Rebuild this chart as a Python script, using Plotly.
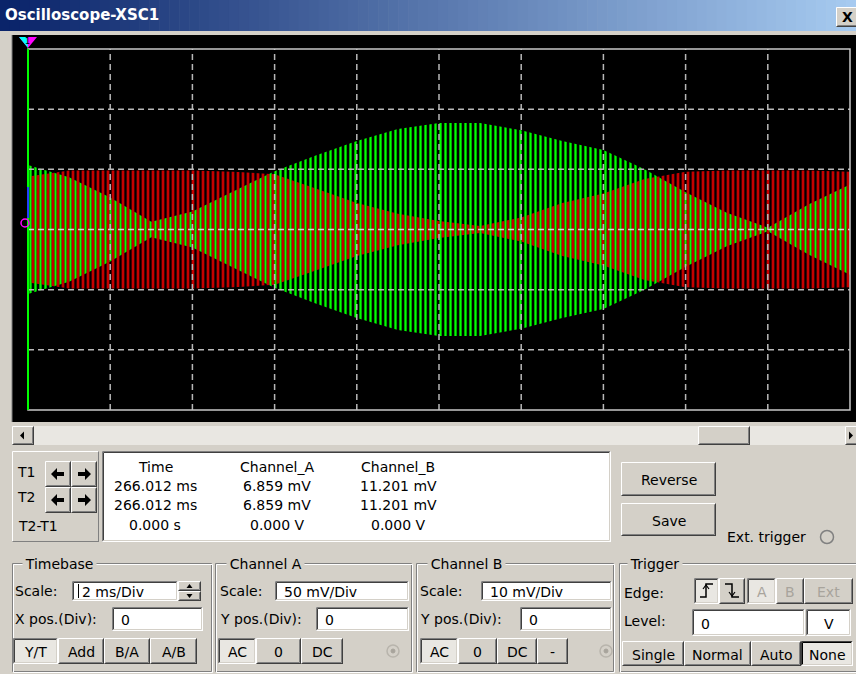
import plotly.graph_objects as go

# ---------------- measurement data ----------------
# sample instants along the sweep (ms from the left edge, 2 ms/Div, 10 Div)
time_ms = [0, 1, 2, 3, 4, 5, 6, 7, 8, 9, 10, 11, 12, 13, 14, 15, 16, 17, 18, 19, 20]
# peak (envelope) amplitude of each channel at those instants
chA_peak_mV = [44, 49, 49, 49, 49, 48, 46, 34, 22, 13, 7, 3, 10, 22, 30, 42, 48, 49, 49, 49, 48]
chB_peak_mV = [10.7, 8.7, 5.3, 1.3, 3.0, 6.3, 9.7, 12.3, 14.7, 16.7, 17.7, 17.7, 16.5, 14.7, 13.2,
               10.0, 6.2, 2.8, 0.3, 4.2, 7.5]

# instrument settings
TIMEBASE_MS_PER_DIV = 2
CHA_MV_PER_DIV = 50
CHB_MV_PER_DIV = 10
H_DIVS = 10
V_DIVS = 6

# cursor readout table
readout_cols = ["Time", "Channel_A", "Channel_B"]
readout_t1 = ["266.012 ms", "6.859 mV", "11.201 mV"]
readout_t2 = ["266.012 ms", "6.859 mV", "11.201 mV"]
readout_dt = ["0.000 s", "0.000 V", "0.000 V"]

# ---------------- helpers (window pixel space) ----------------
W, H = 856, 674
FONT = "DejaVu Sans"
FACE = "#d4d0c8"
DARK = "#404040"
SHADOW = "#808080"
LIGHT = "#ffffff"
CHECK = "#e9e7e2"

# screen rectangle in window pixels
SCR_L, SCR_R, SCR_T, SCR_B = 28, 850, 49, 410
STRIPE = 5  # spacing of the drawn carrier strokes, px

shapes = []
annos = []


def fx(px):
    return px / W


def fy(py):
    return 1 - py / H


def rect(x0, y0, x1, y1, fill, line_color=None, lw=1, layer="above"):
    shapes.append(dict(type="rect", xref="paper", yref="paper",
                       x0=fx(x0), x1=fx(x1), y0=fy(y1), y1=fy(y0),
                       fillcolor=fill,
                       line=dict(color=line_color or "rgba(0,0,0,0)", width=lw if line_color else 0),
                       layer=layer))


def seg(x0, y0, x1, y1, color, lw=1, dash=None, layer="above"):
    ln = dict(color=color, width=lw)
    if dash:
        ln["dash"] = dash
    shapes.append(dict(type="line", xref="paper", yref="paper",
                       x0=fx(x0), x1=fx(x1), y0=fy(y0), y1=fy(y1), line=ln, layer=layer))


def poly(points, fill=None, color=None, lw=1, closed=True):
    d = "M " + " L ".join(f"{fx(x):.5f},{fy(y):.5f}" for x, y in points)
    if closed:
        d += " Z"
    shapes.append(dict(type="path", xref="paper", yref="paper", path=d,
                       fillcolor=fill if fill else "rgba(0,0,0,0)",
                       line=dict(color=color or "rgba(0,0,0,0)", width=lw if color else 0),
                       layer="above"))


def circle(cx, cy, r, color, fill=None, lw=1):
    shapes.append(dict(type="circle", xref="paper", yref="paper",
                       x0=fx(cx - r), x1=fx(cx + r), y0=fy(cy + r), y1=fy(cy - r),
                       fillcolor=fill or "rgba(0,0,0,0)", line=dict(color=color, width=lw),
                       layer="above"))


def bevel(x0, y0, x1, y1, tl_out, br_out, tl_in=None, br_in=None):
    x0 += 0.5; y0 += 0.5; x1 -= 0.5; y1 -= 0.5
    seg(x0, y0, x1, y0, tl_out); seg(x0, y0, x0, y1, tl_out)
    seg(x0, y1, x1 + 0.5, y1, br_out); seg(x1, y0, x1, y1 + 0.5, br_out)
    if tl_in:
        seg(x0 + 1, y0 + 1, x1 - 1, y0 + 1, tl_in); seg(x0 + 1, y0 + 1, x0 + 1, y1 - 1, tl_in)
    if br_in:
        seg(x0 + 1, y1 - 1, x1 - 1, y1 - 1, br_in); seg(x1 - 1, y0 + 1, x1 - 1, y1 - 1, br_in)


def text(x, y, s, size=14, color="black", anchor="left", bold=False, bg=None, family=FONT):
    a = dict(xref="paper", yref="paper", x=fx(x), y=fy(y),
             text=f"<b>{s}</b>" if bold else s, showarrow=False,
             xanchor=anchor, yanchor="middle",
             font=dict(family=family, size=size, color=color), borderpad=0)
    if bg:
        a["bgcolor"] = bg
    annos.append(a)


def button(x0, y0, x1, y1, label=None, pressed=False, color="black", size=14, heavy_frame=False):
    if pressed:
        rect(x0, y0, x1, y1, CHECK)
        bevel(x0, y0, x1, y1, DARK if heavy_frame else SHADOW, LIGHT, "#000000" if heavy_frame else DARK, FACE)
    else:
        rect(x0, y0, x1, y1, FACE)
        bevel(x0, y0, x1, y1, LIGHT, DARK, None, SHADOW)
    if label is not None:
        text((x0 + x1) / 2, (y0 + y1) / 2 + 1, label, size=size, color=color, anchor="center")


def textbox(x0, y0, x1, y1, value=None, pad=8, anchor="left"):
    rect(x0, y0, x1, y1, LIGHT)
    bevel(x0, y0, x1, y1, SHADOW, LIGHT, DARK, FACE)
    if value is not None:
        if anchor == "left":
            text(x0 + pad, (y0 + y1) / 2 + 1, value)
        else:
            text((x0 + x1) / 2, (y0 + y1) / 2 + 1, value, anchor="center")


def groupbox(x0, y0, x1, y1, label, lx):
    rect(x0 + 0.5, y0 + 0.5, x1 - 0.5, y1 - 0.5, "rgba(0,0,0,0)", SHADOW, 1)
    rect(x0 + 1.5, y0 + 1.5, x1 + 0.5, y1 + 0.5, "rgba(0,0,0,0)", LIGHT, 1)
    text(lx, y0 + 1, "\u2009" + label + "\u2009", bg=FACE)


# ---------------- window chrome ----------------
# title bar gradient
n_steps = 86
c0, c1 = (10, 36, 106), (166, 202, 240)
for i in range(n_steps):
    t = i / (n_steps - 1)
    col = "rgb({},{},{})".format(*[int(a + (b - a) * t) for a, b in zip(c0, c1)])
    rect(i * W / n_steps, 0, (i + 1) * W / n_steps + 0.6, 31, col, layer="below")
text(4, 15, "Oscilloscope-XSC1", size=15, color="white", bold=True)
button(836, 7, 860, 27)
text(847, 17, "X", size=14, bold=True, anchor="center")

# black screen
rect(12, 35, 860, 422, "#000000", layer="below")
seg(12, 35, 12, 422, SHADOW, 1, layer="below")

# top cursor flag
poly([(19, 37), (37, 37), (28, 48)], fill="#ff00ff")
poly([(19, 37), (27, 37), (28, 48)], fill="#00ffff")
text(28, 41, "1", size=8, color="black", anchor="center")

# ---------------- waveform screen ----------------
fig = go.Figure()

green_pat = dict(shape="|", size=STRIPE, solidity=0.46, fgcolor="#00ff00",
                 bgcolor="rgba(0,0,0,0)", fillmode="replace")
red_pat = dict(shape="|", size=STRIPE, solidity=0.42, fgcolor="#ff0000",
               bgcolor="rgba(0,0,0,0)", fillmode="replace")

# channel B (green) on x / y2
fig.add_trace(go.Scatter(x=time_ms, y=[-v for v in chB_peak_mV], xaxis="x", yaxis="y2", mode="lines",
                         line=dict(width=0), hoverinfo="skip", showlegend=False))
fig.add_trace(go.Scatter(x=time_ms, y=chB_peak_mV, xaxis="x", yaxis="y2", mode="lines",
                         line=dict(width=0), fill="tonexty", fillcolor="rgba(0,0,0,0)",
                         fillpattern=green_pat, hoverinfo="skip", showlegend=False))
# channel A (red) on its own x2 / y3 pair; the pair is offset half a stroke so that
# the red strokes fall between the green ones, with the range compensating exactly
fig.add_trace(go.Scatter(x=time_ms, y=[-v for v in chA_peak_mV], xaxis="x2", yaxis="y3", mode="lines",
                         line=dict(width=0), hoverinfo="skip", showlegend=False))
fig.add_trace(go.Scatter(x=time_ms, y=chA_peak_mV, xaxis="x2", yaxis="y3", mode="lines",
                         line=dict(width=0), fill="tonexty", fillcolor="rgba(0,0,0,0)",
                         fillpattern=red_pat, hoverinfo="skip", showlegend=False))

# graticule, drawn over the traces
grid_line = dict(color="#b8b8b8", width=1.5, dash="6px,4px")
for k in range(1, H_DIVS):
    shapes.append(dict(type="line", xref="x", yref="y domain", x0=k * TIMEBASE_MS_PER_DIV,
                       x1=k * TIMEBASE_MS_PER_DIV, y0=0, y1=1, line=grid_line, layer="above"))
half = V_DIVS // 2
for k in range(-half + 1, half):
    shapes.append(dict(type="line", xref="x domain", yref="y", x0=0, x1=1,
                       y0=k * CHA_MV_PER_DIV, y1=k * CHA_MV_PER_DIV,
                       line=dict(grid_line, color="#d8d8d8" if k == 0 else "#b8b8b8"),
                       layer="above"))
shapes.append(dict(type="rect", xref="x domain", yref="y domain", x0=0, x1=1, y0=0, y1=1,
                   line=dict(color="#c8c8c8", width=1.5), fillcolor="rgba(0,0,0,0)", layer="above"))
# T1 cursor
shapes.append(dict(type="line", xref="x domain", yref="y domain", x0=0, x1=0, y0=0, y1=1,
                   line=dict(color="#00ff00", width=2), layer="above"))
seg(28, 187, 28, 218, "#2040ff", 2)
circle(25, 223, 4, "#ff00ff", lw=1.5)

# ---------------- scrollbar ----------------
rect(12, 426, 860, 445, CHECK)
button(12, 426, 34, 445)
poly([(20, 435.5), (24, 431.5), (24, 439.5)], fill="black")
button(698, 426, 750, 445)
button(845, 426, 862, 445)
poly([(853, 435.5), (849, 431.5), (849, 439.5)], fill="black")

# ---------------- cursor panel ----------------
rect(12, 451, 99, 542, FACE)
bevel(12, 451, 99, 542, LIGHT, SHADOW)
text(16, 472, "T1")
text(16, 497, "T2")
text(17, 526, "T2-T1")


def arrow(cx, cy, direction):
    s = direction
    pts = [(cx - 7 * s, cy), (cx - 1 * s, cy - 6), (cx - 1 * s, cy - 2), (cx + 6 * s, cy - 2),
           (cx + 6 * s, cy + 2), (cx - 1 * s, cy + 2), (cx - 1 * s, cy + 6)]
    poly(pts, fill="black")


for (bx0, by0) in [(45, 461), (45, 487)]:
    button(bx0, by0, bx0 + 26, by0 + 26)
    arrow(bx0 + 13, by0 + 13, 1)
    button(bx0 + 26, by0, bx0 + 52, by0 + 26)
    arrow(bx0 + 39, by0 + 13, -1)

textbox(102, 451, 611, 542)
col_x = [155, 277, 398]
for cx, hdr, a, b, d in zip(col_x, readout_cols, readout_t1, readout_t2, readout_dt):
    text(cx, 467, hdr, anchor="center")
    text(cx, 486, a, anchor="center")
    text(cx, 505, b, anchor="center")
    text(cx, 525, d, anchor="center")

button(621, 462, 716, 496, "Reverse")
button(621, 503, 716, 536, "Save")
text(726, 537, "Ext. trigger")
circle(827, 537, 6.5, SHADOW, fill=FACE, lw=1.5)

# ---------------- Timebase ----------------
groupbox(12, 563, 212, 672, "Timebase", 22)
text(14, 591, "Scale:")
textbox(72, 581, 178, 601)
text(81, 592, f"{TIMEBASE_MS_PER_DIV} ms/Div")
seg(78.5, 584, 78.5, 598, "black", 1)
button(178, 581, 201, 591)
poly([(189.5, 584), (186.5, 588), (192.5, 588)], fill="black")
button(178, 591, 201, 601)
poly([(189.5, 598), (186.5, 594), (192.5, 594)], fill="black")
text(14, 619, "X pos.(Div):")
textbox(112, 607, 203, 631, "0")
button(13, 638, 58, 664, "Y/T", pressed=True)
button(58, 638, 104, 664, "Add")
button(104, 638, 150, 664, "B/A")
button(150, 638, 197, 664, "A/B")

# ---------------- Channel A ----------------
groupbox(215, 563, 412, 672, "Channel A", 226)
text(219, 591, "Scale:")
textbox(275, 581, 409, 601, f"{CHA_MV_PER_DIV} mV/Div")
text(219, 619, "Y pos.(Div):")
textbox(316, 607, 409, 631, "0")
button(218, 638, 256, 664, "AC", pressed=True)
button(256, 638, 301, 664, "0")
button(301, 638, 343, 664, "DC")
circle(393, 651, 6, "#b8b4ac", fill=FACE, lw=1.5)
circle(393, 651, 2, "#a8a49c", fill="#a8a49c")

# ---------------- Channel B ----------------
groupbox(416, 563, 614, 672, "Channel B", 427)
text(419, 591, "Scale:")
textbox(481, 581, 612, 601, f"{CHB_MV_PER_DIV} mV/Div")
text(419, 619, "Y pos.(Div):")
textbox(520, 607, 612, 631, "0")
button(420, 638, 458, 664, "AC", pressed=True)
button(458, 638, 497, 664, "0")
button(497, 638, 537, 664, "DC")
button(537, 638, 568, 664, "-")
circle(606, 651, 6, "#b8b4ac", fill=FACE, lw=1.5)
circle(606, 651, 2, "#a8a49c", fill="#a8a49c")

# ---------------- Trigger ----------------
groupbox(619, 563, 858, 672, "Trigger", 627)
text(623, 593, "Edge:")
button(694, 578, 719, 604, pressed=True)
poly([(700, 597), (706, 597), (706, 584), (713, 584)], color="black", lw=1.5, closed=False)
poly([(703, 589), (706, 585), (709, 589)], color="black", lw=1.2, closed=False)
button(719, 578, 745, 604)
poly([(725, 584), (732, 584), (732, 597), (739, 597)], color="black", lw=1.5, closed=False)
poly([(729, 592), (732, 596), (735, 592)], color="black", lw=1.2, closed=False)
button(747, 578, 776, 604, "A", pressed=True, color="#a8a49c")
button(776, 578, 804, 604, "B", color="#a8a49c")
button(804, 578, 853, 604, "Ext", color="#a8a49c")
text(623, 621, "Level:")
textbox(692, 609, 805, 636, "0")
textbox(806, 609, 851, 636, "V", anchor="center")
button(622, 641, 684, 666, "Single")
button(684, 641, 751, 666, "Normal")
button(751, 641, 801, 666, "Auto")
button(801, 641, 853, 666, "None", pressed=True, heavy_frame=True)

t_span = H_DIVS * TIMEBASE_MS_PER_DIV
shift_px = STRIPE / 2
shift_ms = shift_px * t_span / (SCR_R - SCR_L)
y_dom = [fy(SCR_B), fy(SCR_T)]

fig.update_layout(
    width=W, height=H, autosize=False,
    margin=dict(l=0, r=0, t=0, b=0, pad=0),
    paper_bgcolor=FACE, plot_bgcolor="rgba(0,0,0,0)",
    showlegend=False, hovermode=False,
    xaxis=dict(domain=[fx(SCR_L), fx(SCR_R)], range=[0, t_span],
               visible=False, fixedrange=True),
    yaxis=dict(domain=y_dom, range=[-half * CHA_MV_PER_DIV, half * CHA_MV_PER_DIV],
               visible=False, fixedrange=True),
    yaxis2=dict(overlaying="y", range=[-half * CHB_MV_PER_DIV, half * CHB_MV_PER_DIV],
                visible=False, fixedrange=True),
    xaxis2=dict(domain=[fx(SCR_L + shift_px), fx(SCR_R + shift_px)],
                range=[shift_ms, t_span + shift_ms], anchor="y3",
                visible=False, fixedrange=True),
    yaxis3=dict(domain=y_dom, range=[-half * CHA_MV_PER_DIV, half * CHA_MV_PER_DIV],
                anchor="x2", visible=False, fixedrange=True),
    shapes=shapes, annotations=annos,
)

fig.write_html("out.html", config={"displayModeBar": False})
